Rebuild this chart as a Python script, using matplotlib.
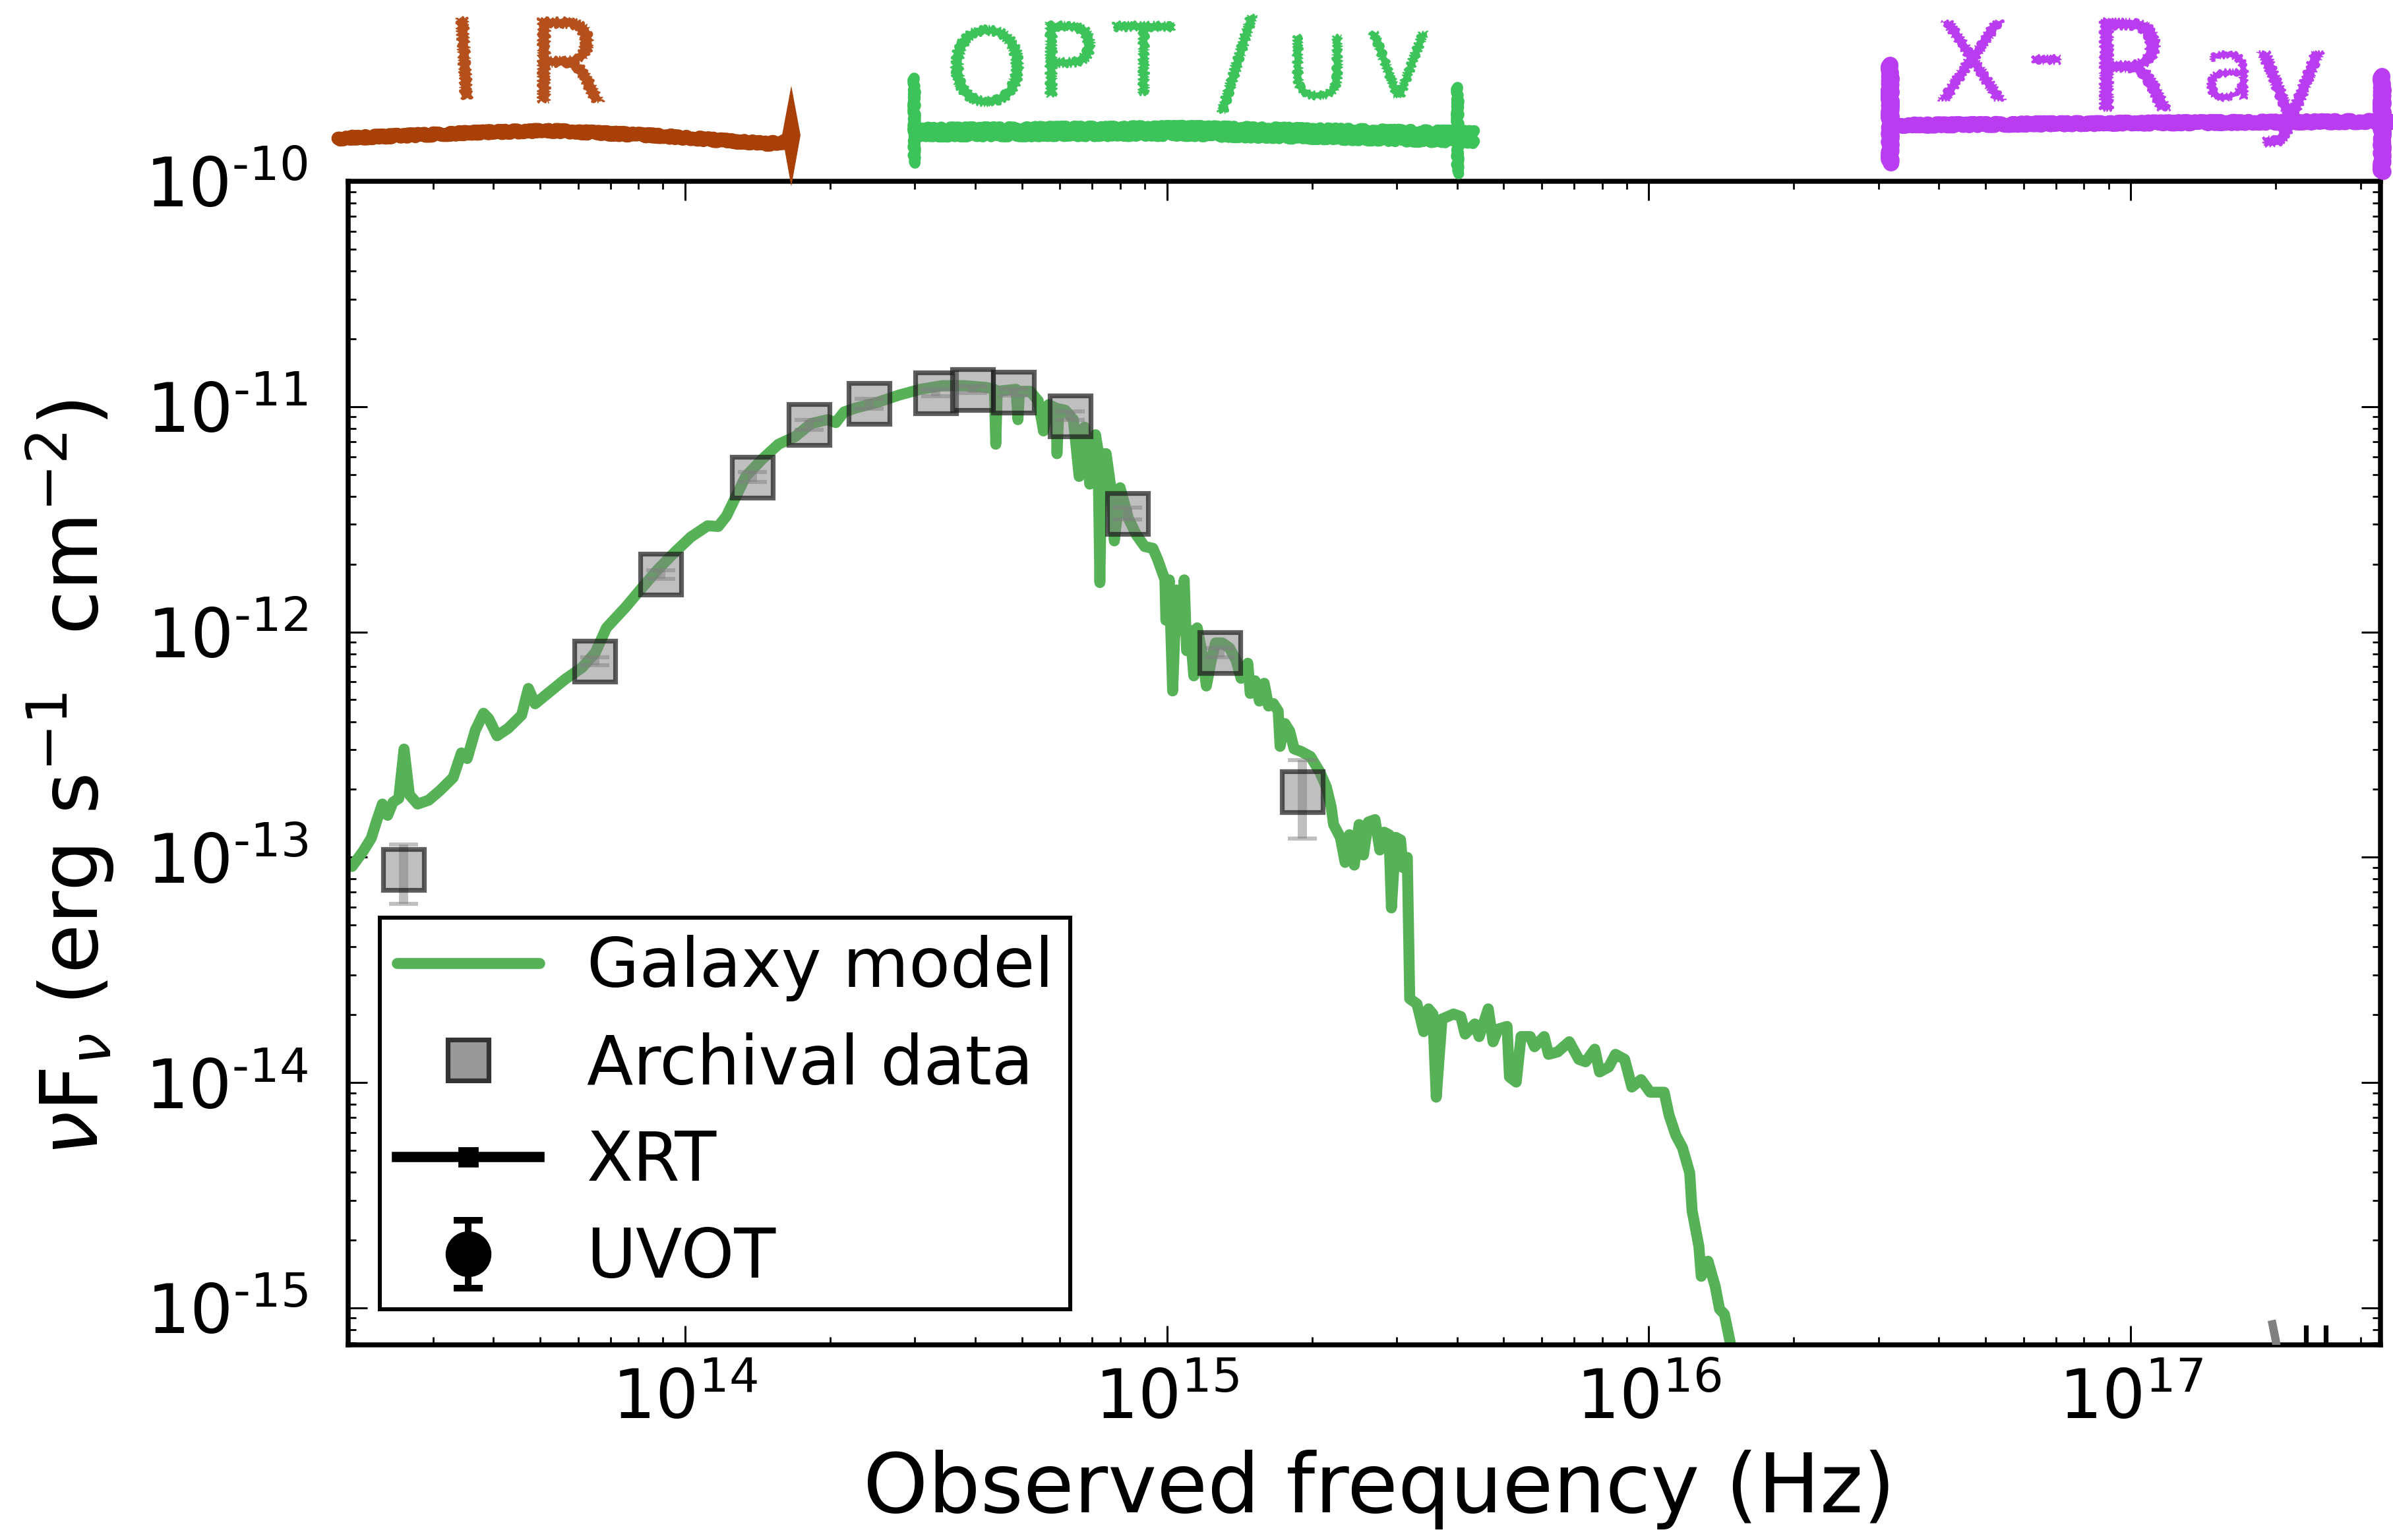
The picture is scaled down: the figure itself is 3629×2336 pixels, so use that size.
import numpy as np
import matplotlib
matplotlib.use("Agg")
import matplotlib.pyplot as plt
from matplotlib.lines import Line2D
from matplotlib.patches import Polygon, PathPatch
from matplotlib.textpath import TextPath
from matplotlib.font_manager import FontProperties
from matplotlib.transforms import Affine2D, IdentityTransform
from matplotlib.ticker import FuncFormatter, LogLocator

plt.rcParams['font.family'] = ['DejaVu Sans']
plt.rcParams['axes.unicode_minus'] = False

# ---------------- data ----------------
# Galaxy model (log10 frequency [Hz], log10 nuF_nu [erg/s/cm2])
model_logfreq = [
    13.309, 13.332, 13.349, 13.360, 13.372, 13.383, 13.394, 13.406, 13.417, 13.428,
    13.445, 13.468, 13.491, 13.519, 13.536, 13.548, 13.565, 13.582, 13.593, 13.610,
    13.633, 13.661, 13.675, 13.689, 13.718, 13.752, 13.786, 13.814, 13.837, 13.877,
    13.910, 13.944, 13.979, 14.012, 14.047, 14.069, 14.086, 14.103, 14.126, 14.160,
    14.194, 14.228, 14.262, 14.296, 14.313, 14.330, 14.353, 14.398, 14.444, 14.489,
    14.534, 14.580, 14.625, 14.642, 14.645, 14.648, 14.687, 14.691, 14.694, 14.716,
    14.733, 14.744, 14.755, 14.770, 14.772, 14.776, 14.789, 14.806, 14.818, 14.829,
    14.840, 14.852, 14.857, 14.861, 14.865, 14.874, 14.886, 14.891, 14.903, 14.920,
    14.937, 14.954, 14.971,
    14.981, 14.996, 14.998, 15.005, 15.012, 15.020, 15.029, 15.036, 15.041, 15.048,
    15.056, 15.063, 15.072, 15.082, 15.092, 15.101, 15.115, 15.130, 15.144, 15.154,
    15.168, 15.173, 15.183, 15.192, 15.202, 15.211, 15.221, 15.231, 15.235, 15.245,
    15.255, 15.264, 15.279, 15.298, 15.317, 15.331, 15.341, 15.346, 15.360, 15.370,
    15.379, 15.389, 15.399, 15.408, 15.418, 15.432, 15.442, 15.451, 15.461, 15.466,
    15.475, 15.485, 15.490, 15.499, 15.504, 15.519, 15.533, 15.543, 15.552, 15.559,
    15.571, 15.595, 15.610, 15.619, 15.639, 15.648, 15.667, 15.677, 15.687, 15.706,
    15.711, 15.725, 15.735, 15.754, 15.763, 15.783, 15.792, 15.811, 15.835, 15.855,
    15.869, 15.888, 15.898, 15.917, 15.931, 15.950, 15.965, 15.984, 16.003, 16.032,
    16.042, 16.056, 16.070, 16.085, 16.090, 16.104, 16.109, 16.123, 16.138, 16.147,
    16.157, 16.171, 16.190,
]
model_logflux = [
    -13.041, -12.974, -12.915, -12.840, -12.764, -12.814, -12.756, -12.739, -12.520, -12.722,
    -12.764, -12.747, -12.705, -12.646, -12.537, -12.562, -12.436, -12.361, -12.386, -12.461,
    -12.428, -12.369, -12.251, -12.319, -12.268, -12.209, -12.159, -12.092, -11.982, -11.890,
    -11.806, -11.722, -11.646, -11.579, -11.529, -11.532, -11.486, -11.411, -11.310, -11.234,
    -11.167, -11.134, -11.075, -11.058, -11.071, -11.024, -11.007, -10.982, -10.949, -10.923,
    -10.907, -10.907, -10.915, -10.923, -11.167, -10.932, -10.923, -11.058, -10.932, -10.932,
    -10.974, -11.108, -10.991, -11.007, -11.209, -11.010, -11.016, -11.058, -11.310, -11.091,
    -11.344, -11.125, -11.192, -11.781, -11.209, -11.209, -11.394, -11.596, -11.360, -11.495,
    -11.570, -11.621, -11.629,
    -11.679, -11.769, -11.948, -11.769, -12.262, -11.814, -11.993, -11.769, -12.083, -11.993,
    -12.195, -11.982, -12.083, -12.240, -12.127, -12.049, -12.049, -12.071, -12.127, -12.206,
    -12.139, -12.273, -12.217, -12.307, -12.228, -12.329, -12.318, -12.351, -12.508, -12.407,
    -12.441, -12.519, -12.531, -12.553, -12.620, -12.688, -12.777, -12.855, -12.912, -13.023,
    -12.900, -13.035, -12.855, -12.990, -12.844, -12.833, -12.968, -12.889, -12.900, -13.225,
    -12.912, -12.923, -13.046, -13.001, -13.628, -13.651, -13.774, -13.673, -13.696, -14.065,
    -13.718, -13.696, -13.707, -13.785, -13.740, -13.796, -13.673, -13.819, -13.763, -13.751,
    -13.975, -13.998, -13.796, -13.796, -13.841, -13.796, -13.875, -13.864, -13.819, -13.897,
    -13.908, -13.852, -13.953, -13.931, -13.875, -13.897, -14.020, -13.987, -14.043, -14.043,
    -14.143, -14.233, -14.289, -14.401, -14.569, -14.726, -14.860, -14.793, -14.905, -15.006,
    -15.028, -15.174, -15.308,
]

# Archival photometry
arch_freq = [2.61e13, 6.5e13, 8.9e13, 1.38e14, 1.81e14, 2.41e14, 3.31e14,
             3.95e14, 4.80e14, 6.31e14, 8.28e14, 1.29e15, 1.91e15]
arch_flux = [8.8e-14, 7.4e-13, 1.80e-12, 4.87e-12, 8.3e-12, 1.03e-11, 1.15e-11,
             1.19e-11, 1.16e-11, 9.1e-12, 3.36e-12, 8.1e-13, 1.95e-13]
arch_err = [2.6e-14, 3.0e-14, 8.0e-14, 2.5e-13, 4.0e-13, 5.0e-13, 4.0e-13,
            4.0e-13, 4.0e-13, 4.0e-13, 2.0e-13, 4.0e-14, 7.4e-14]

# XRT (mostly below the plotted range)
xrt_freq = [2.31e17, 2.54e17]
xrt_flux = [4.0e-16, 4.0e-16]
xrt_err_lo = [2.0e-16, 2.0e-16]
xrt_err_hi = [4.4e-16, 4.4e-16]
xrt_model_freq = [1.97e17, 2.00e17, 2.05e17]
xrt_model_flux = [8.45e-16, 7.2e-16, 5.0e-16]

# UVOT (no points in range)
uvot_freq = [np.nan]
uvot_flux = [np.nan]
uvot_err = [np.nan]

xlim = (2.0e13, 3.3e17)
ylim = (6.85e-16, 1.0e-10)

legend_labels = ['Galaxy model', 'Archival data', 'XRT', 'UVOT']

# ---------------- figure ----------------
W, H = 3630, 2336
fig = plt.figure(figsize=(W / 200, H / 200), dpi=200)
ax = fig.add_axes([528 / W, 1 - 2040 / H, (3610 - 528) / W, (2040 - 275) / H])

green = '#57b257'
model_freq = 10 ** np.array(model_logfreq)
model_flux = 10 ** np.array(model_logflux)
gal_line, = ax.plot(model_freq, model_flux, color=green, lw=6,
                    solid_joinstyle='round', solid_capstyle='round', zorder=2)

ax.errorbar(arch_freq, arch_flux, yerr=arch_err, fmt='none', ecolor='gray',
            alpha=0.5, elinewidth=5, capsize=8, capthick=2.2, zorder=3)
ax.plot(arch_freq, arch_flux, ls='none', marker='s', ms=22.5,
        mfc=(0.5, 0.5, 0.5, 0.5), mec=(0.1, 0.1, 0.1, 0.7), mew=2.6, zorder=4)

ax.plot(xrt_model_freq, xrt_model_flux, color='gray', lw=4.5, zorder=3)
ax.errorbar(xrt_freq, xrt_flux, yerr=[xrt_err_lo, xrt_err_hi], fmt='none',
            ecolor='k', elinewidth=2.6, zorder=3)
uvot = ax.errorbar(uvot_freq, uvot_flux, yerr=uvot_err, fmt='o', color='k',
                   ms=24, elinewidth=3.6, capsize=8, capthick=3.6)

ax.set_xscale('log')
ax.set_yscale('log')
ax.set_xlim(*xlim)
ax.set_ylim(*ylim)


def log_fmt(v, pos):
    e = int(round(np.log10(v)))
    if e < 0:
        return r'$10^{\text{-}%d}$' % (-e)
    return r'$10^{%d}$' % e


ax.yaxis.set_major_locator(LogLocator(base=10, numticks=20))
ax.yaxis.set_major_formatter(FuncFormatter(log_fmt))
ax.xaxis.set_major_formatter(FuncFormatter(log_fmt))

for s in ax.spines.values():
    s.set_linewidth(2.7)
ax.tick_params(which='both', direction='in', top=True, right=True)
ax.tick_params(which='major', length=10.5, width=1.1, labelsize=37)
ax.tick_params(which='minor', length=4.2, width=1.0)
ax.tick_params(axis='y', which='major', pad=22)
ax.tick_params(axis='x', which='major', pad=12)

ax.set_xlabel('Observed frequency (Hz)', fontsize=45)
ax.set_ylabel(r'$\nu\mathrm{F}_\nu$ (erg s$^{-1}$  cm$^{-2}$)', fontsize=44)
ax.yaxis.set_label_coords(-0.114, 0.487)
ax.xaxis.set_label_coords(0.5075, -0.09)

arch_handle = Line2D([], [], ls='none', marker='s', ms=22.5, mfc='#999999',
                     mec='#333333', mew=2.6)
xrt_handle = Line2D([], [], color='k', lw=5.6, marker='s', ms=10)
leg = ax.legend([gal_line, arch_handle, xrt_handle, uvot], legend_labels,
                loc='lower left', bbox_to_anchor=(0.0156, 0.0306),
                borderaxespad=0, fontsize=37, frameon=True, fancybox=False,
                framealpha=1, edgecolor='k', handlelength=2.1,
                handletextpad=0.7, labelspacing=0.45, borderpad=0.25)
leg.get_frame().set_linewidth(2.2)

# ---------------- hand-drawn band annotations ----------------
def fx(px):
    return px / W


def fy(py):
    return 1 - py / H


def scribble(xs, ys, color, lw):
    ln = Line2D([fx(v) for v in xs], [fy(v) for v in ys], transform=fig.transFigure,
                color=color, lw=lw, solid_capstyle='round', solid_joinstyle='round')
    ln.set_sketch_params(scale=2.0, length=40, randomness=30)
    fig.add_artist(ln)


hand_font = FontProperties(family='DejaVu Sans')


def hand_text(ch, xc, yc, size, color, rot=0):
    tp = TextPath((0, 0), ch, size=size, prop=hand_font)
    bb = tp.get_extents()
    tr = (Affine2D().translate(-(bb.x0 + bb.x1) / 2, -(bb.y0 + bb.y1) / 2)
          .rotate_deg(rot).translate(xc, H - yc))
    patch = PathPatch(tr.transform_path(tp), transform=IdentityTransform(),
                      fc=color, ec=color, lw=0.3)
    patch.set_sketch_params(scale=2.0, length=12, randomness=6)
    fig.add_artist(patch)


ir_c, ir_t = '#a84008', '#b5501c'
opt_c = '#3cc35a'
xr_c = '#b93cf0'

# IR
hand_text('I', 704, 88, 168, ir_t, rot=3)
hand_text('R', 866, 91, 175, ir_t)
scribble([513, 700, 827, 1000, 1164, 1200], [210, 202, 198, 206, 218, 214], ir_c, 7.5)
fig.add_artist(Polygon([(fx(1200), fy(130)), (fx(1214), fy(205)), (fx(1200), fy(283)),
                        (fx(1186), fy(205))], closed=True, transform=fig.transFigure,
                       color=ir_c, lw=0))

# OPT/UV
for ch, xc, yc, sz in [('O', 1497, 100, 160), ('P', 1623, 90, 155), ('T', 1734, 88, 150),
                       ('/', 1876, 97, 180), ('U', 1998, 102, 130), ('V', 2121, 98, 135)]:
    hand_text(ch, xc, yc, sz, opt_c)
scribble([1386, 1800, 2236], [195, 192, 200], opt_c, 6)
scribble([1386, 1800, 2236], [206, 205, 216], opt_c, 6)
scribble([1386, 1386], [118, 247], opt_c, 6)
scribble([2210, 2210], [132, 263], opt_c, 6)

# X-Ray
for ch, xc, yc, sz in [('X', 2990, 92, 165), ('-', 3103, 90, 160), ('R', 3239, 98, 190),
                       ('a', 3378, 115, 130), ('y', 3474, 150, 190)]:
    hand_text(ch, xc, yc, sz, xr_c)
scribble([2882, 3200, 3630], [190, 187, 184], xr_c, 8)
scribble([2866, 2866], [98, 247], xr_c, 9)
scribble([3612, 3612], [115, 260], xr_c, 9)

fig.savefig('out.png', dpi=200)
